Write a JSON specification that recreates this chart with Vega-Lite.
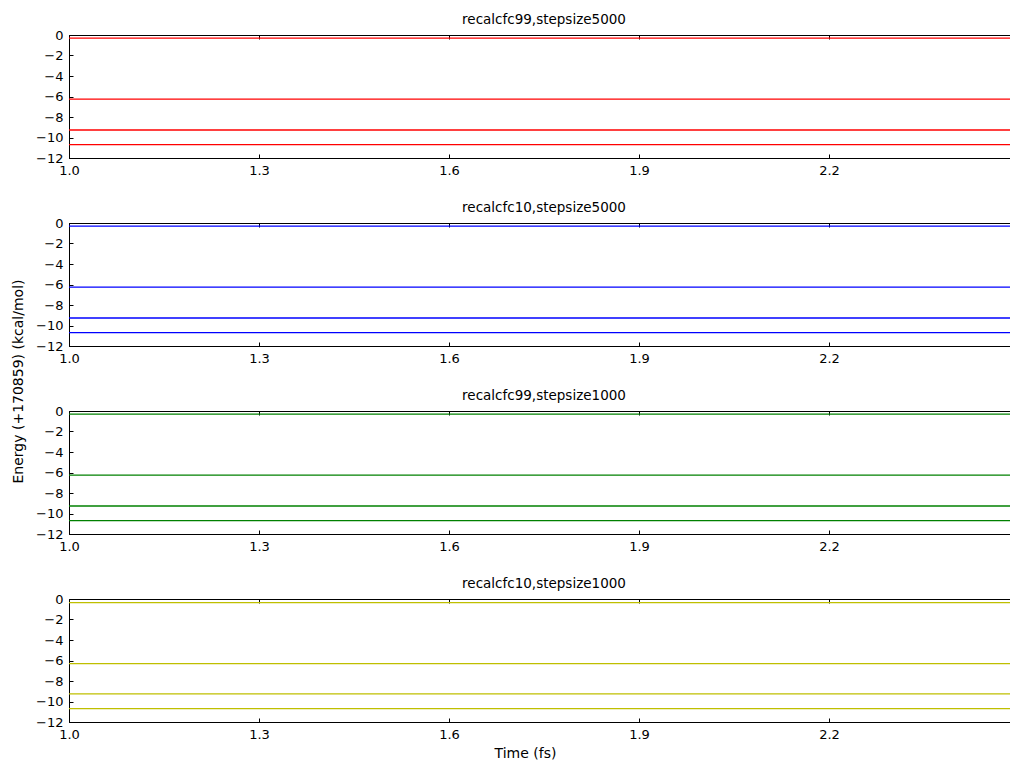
{
  "$schema": "https://vega.github.io/schema/vega-lite/v6.json",
  "background": "white",
  "padding": {"left": 10, "top": 12, "right": 0, "bottom": 0},
  "spacing": 65,
  "bounds": "flush",
  "data": {"values": [
    {"panel": "p1", "series": "a", "time": 1.0, "energy": -0.3},
    {"panel": "p1", "series": "a", "time": 2.5, "energy": -0.3},
    {"panel": "p1", "series": "b", "time": 1.0, "energy": -6.25},
    {"panel": "p1", "series": "b", "time": 2.5, "energy": -6.25},
    {"panel": "p1", "series": "c", "time": 1.0, "energy": -9.27},
    {"panel": "p1", "series": "c", "time": 2.5, "energy": -9.27},
    {"panel": "p1", "series": "d", "time": 1.0, "energy": -10.7},
    {"panel": "p1", "series": "d", "time": 2.5, "energy": -10.7},
    {"panel": "p2", "series": "a", "time": 1.0, "energy": -0.3},
    {"panel": "p2", "series": "a", "time": 2.5, "energy": -0.3},
    {"panel": "p2", "series": "b", "time": 1.0, "energy": -6.25},
    {"panel": "p2", "series": "b", "time": 2.5, "energy": -6.25},
    {"panel": "p2", "series": "c", "time": 1.0, "energy": -9.27},
    {"panel": "p2", "series": "c", "time": 2.5, "energy": -9.27},
    {"panel": "p2", "series": "d", "time": 1.0, "energy": -10.7},
    {"panel": "p2", "series": "d", "time": 2.5, "energy": -10.7},
    {"panel": "p3", "series": "a", "time": 1.0, "energy": -0.3},
    {"panel": "p3", "series": "a", "time": 2.5, "energy": -0.3},
    {"panel": "p3", "series": "b", "time": 1.0, "energy": -6.25},
    {"panel": "p3", "series": "b", "time": 2.5, "energy": -6.25},
    {"panel": "p3", "series": "c", "time": 1.0, "energy": -9.27},
    {"panel": "p3", "series": "c", "time": 2.5, "energy": -9.27},
    {"panel": "p3", "series": "d", "time": 1.0, "energy": -10.7},
    {"panel": "p3", "series": "d", "time": 2.5, "energy": -10.7},
    {"panel": "p4", "series": "a", "time": 1.0, "energy": -0.35},
    {"panel": "p4", "series": "a", "time": 2.5, "energy": -0.35},
    {"panel": "p4", "series": "b", "time": 1.0, "energy": -6.3},
    {"panel": "p4", "series": "b", "time": 2.5, "energy": -6.3},
    {"panel": "p4", "series": "c", "time": 1.0, "energy": -9.25},
    {"panel": "p4", "series": "c", "time": 2.5, "energy": -9.25},
    {"panel": "p4", "series": "d", "time": 1.0, "energy": -10.7},
    {"panel": "p4", "series": "d", "time": 2.5, "energy": -10.7}
  ]},
  "config": {
    "font": "DejaVu Sans",
    "view": {"stroke": "black", "strokeWidth": 1},
    "axis": {
      "domainColor": "black",
      "tickColor": "black",
      "tickSize": -4,
      "labelColor": "black",
      "labelFontSize": 13,
      "labelFont": "DejaVu Sans",
      "labelOverlap": false,
      "labelFlush": false,
      "titleFont": "DejaVu Sans",
      "titleFontSize": 14,
      "titleFontWeight": "normal",
      "titleColor": "black",
      "grid": false,
      "labelPadding": 10
    },
    "title": {"fontSize": 13.5, "fontWeight": "normal", "font": "DejaVu Sans", "color": "black", "offset": 3}
  },
  "vconcat": [
    {
      "title": "recalcfc99,stepsize5000",
      "width": 950, "height": 123,
      "transform": [{"filter": "datum.panel == 'p1'"}],
      "layer": [
        {"mark": {"type": "line", "color": "#ff0000", "strokeWidth": 1.3},
         "encoding": {
           "x": {"field": "time", "type": "quantitative", "scale": {"domain": [1.0, 2.5], "nice": false, "zero": false}, "axis": {"values": [1.0, 1.3, 1.6, 1.9, 2.2], "format": ".1f", "title": null}},
           "y": {"field": "energy", "type": "quantitative", "scale": {"domain": [-12, 0], "nice": false}, "axis": {"values": [0, -2, -4, -6, -8, -10, -12], "format": "d", "title": null, "labelOverlap": false}},
           "detail": {"field": "series"}}},
        {"mark": {"type": "line", "opacity": 0},
         "encoding": {
           "x": {"field": "time", "type": "quantitative", "axis": {"orient": "top", "values": [1.0, 1.3, 1.6, 1.9, 2.2], "labels": false, "title": null}},
           "detail": {"field": "series"}}}
      ],
      "resolve": {"axis": {"x": "independent"}}
    },
    {
      "title": "recalcfc10,stepsize5000",
      "width": 950, "height": 123,
      "transform": [{"filter": "datum.panel == 'p2'"}],
      "layer": [
        {"mark": {"type": "line", "color": "#0000ff", "strokeWidth": 1.3},
         "encoding": {
           "x": {"field": "time", "type": "quantitative", "scale": {"domain": [1.0, 2.5], "nice": false, "zero": false}, "axis": {"values": [1.0, 1.3, 1.6, 1.9, 2.2], "format": ".1f", "title": null}},
           "y": {"field": "energy", "type": "quantitative", "scale": {"domain": [-12, 0], "nice": false}, "axis": {"values": [0, -2, -4, -6, -8, -10, -12], "format": "d", "labelOverlap": false, "title": "Energy (+170859) (kcal/mol)", "titleX": -51, "titleY": 158, "titleBaseline": "middle", "titleAlign": "center", "titleAngle": -90}},
           "detail": {"field": "series"}}},
        {"mark": {"type": "line", "opacity": 0},
         "encoding": {
           "x": {"field": "time", "type": "quantitative", "axis": {"orient": "top", "values": [1.0, 1.3, 1.6, 1.9, 2.2], "labels": false, "title": null}},
           "detail": {"field": "series"}}}
      ],
      "resolve": {"axis": {"x": "independent"}}
    },
    {
      "title": "recalcfc99,stepsize1000",
      "width": 950, "height": 123,
      "transform": [{"filter": "datum.panel == 'p3'"}],
      "layer": [
        {"mark": {"type": "line", "color": "#008000", "strokeWidth": 1.3},
         "encoding": {
           "x": {"field": "time", "type": "quantitative", "scale": {"domain": [1.0, 2.5], "nice": false, "zero": false}, "axis": {"values": [1.0, 1.3, 1.6, 1.9, 2.2], "format": ".1f", "title": null}},
           "y": {"field": "energy", "type": "quantitative", "scale": {"domain": [-12, 0], "nice": false}, "axis": {"values": [0, -2, -4, -6, -8, -10, -12], "format": "d", "title": null, "labelOverlap": false}},
           "detail": {"field": "series"}}},
        {"mark": {"type": "line", "opacity": 0},
         "encoding": {
           "x": {"field": "time", "type": "quantitative", "axis": {"orient": "top", "values": [1.0, 1.3, 1.6, 1.9, 2.2], "labels": false, "title": null}},
           "detail": {"field": "series"}}}
      ],
      "resolve": {"axis": {"x": "independent"}}
    },
    {
      "title": "recalcfc10,stepsize1000",
      "width": 950, "height": 123,
      "transform": [{"filter": "datum.panel == 'p4'"}],
      "layer": [
        {"mark": {"type": "line", "color": "#bfbf00", "strokeWidth": 1.3},
         "encoding": {
           "x": {"field": "time", "type": "quantitative", "scale": {"domain": [1.0, 2.5], "nice": false, "zero": false}, "axis": {"values": [1.0, 1.3, 1.6, 1.9, 2.2], "format": ".1f", "title": "Time (fs)", "titleX": 456, "titlePadding": 5}},
           "y": {"field": "energy", "type": "quantitative", "scale": {"domain": [-12, 0], "nice": false}, "axis": {"values": [0, -2, -4, -6, -8, -10, -12], "format": "d", "title": null, "labelOverlap": false}},
           "detail": {"field": "series"}}},
        {"mark": {"type": "line", "opacity": 0},
         "encoding": {
           "x": {"field": "time", "type": "quantitative", "axis": {"orient": "top", "values": [1.0, 1.3, 1.6, 1.9, 2.2], "labels": false, "title": null}},
           "detail": {"field": "series"}}}
      ],
      "resolve": {"axis": {"x": "independent"}}
    }
  ]
}
